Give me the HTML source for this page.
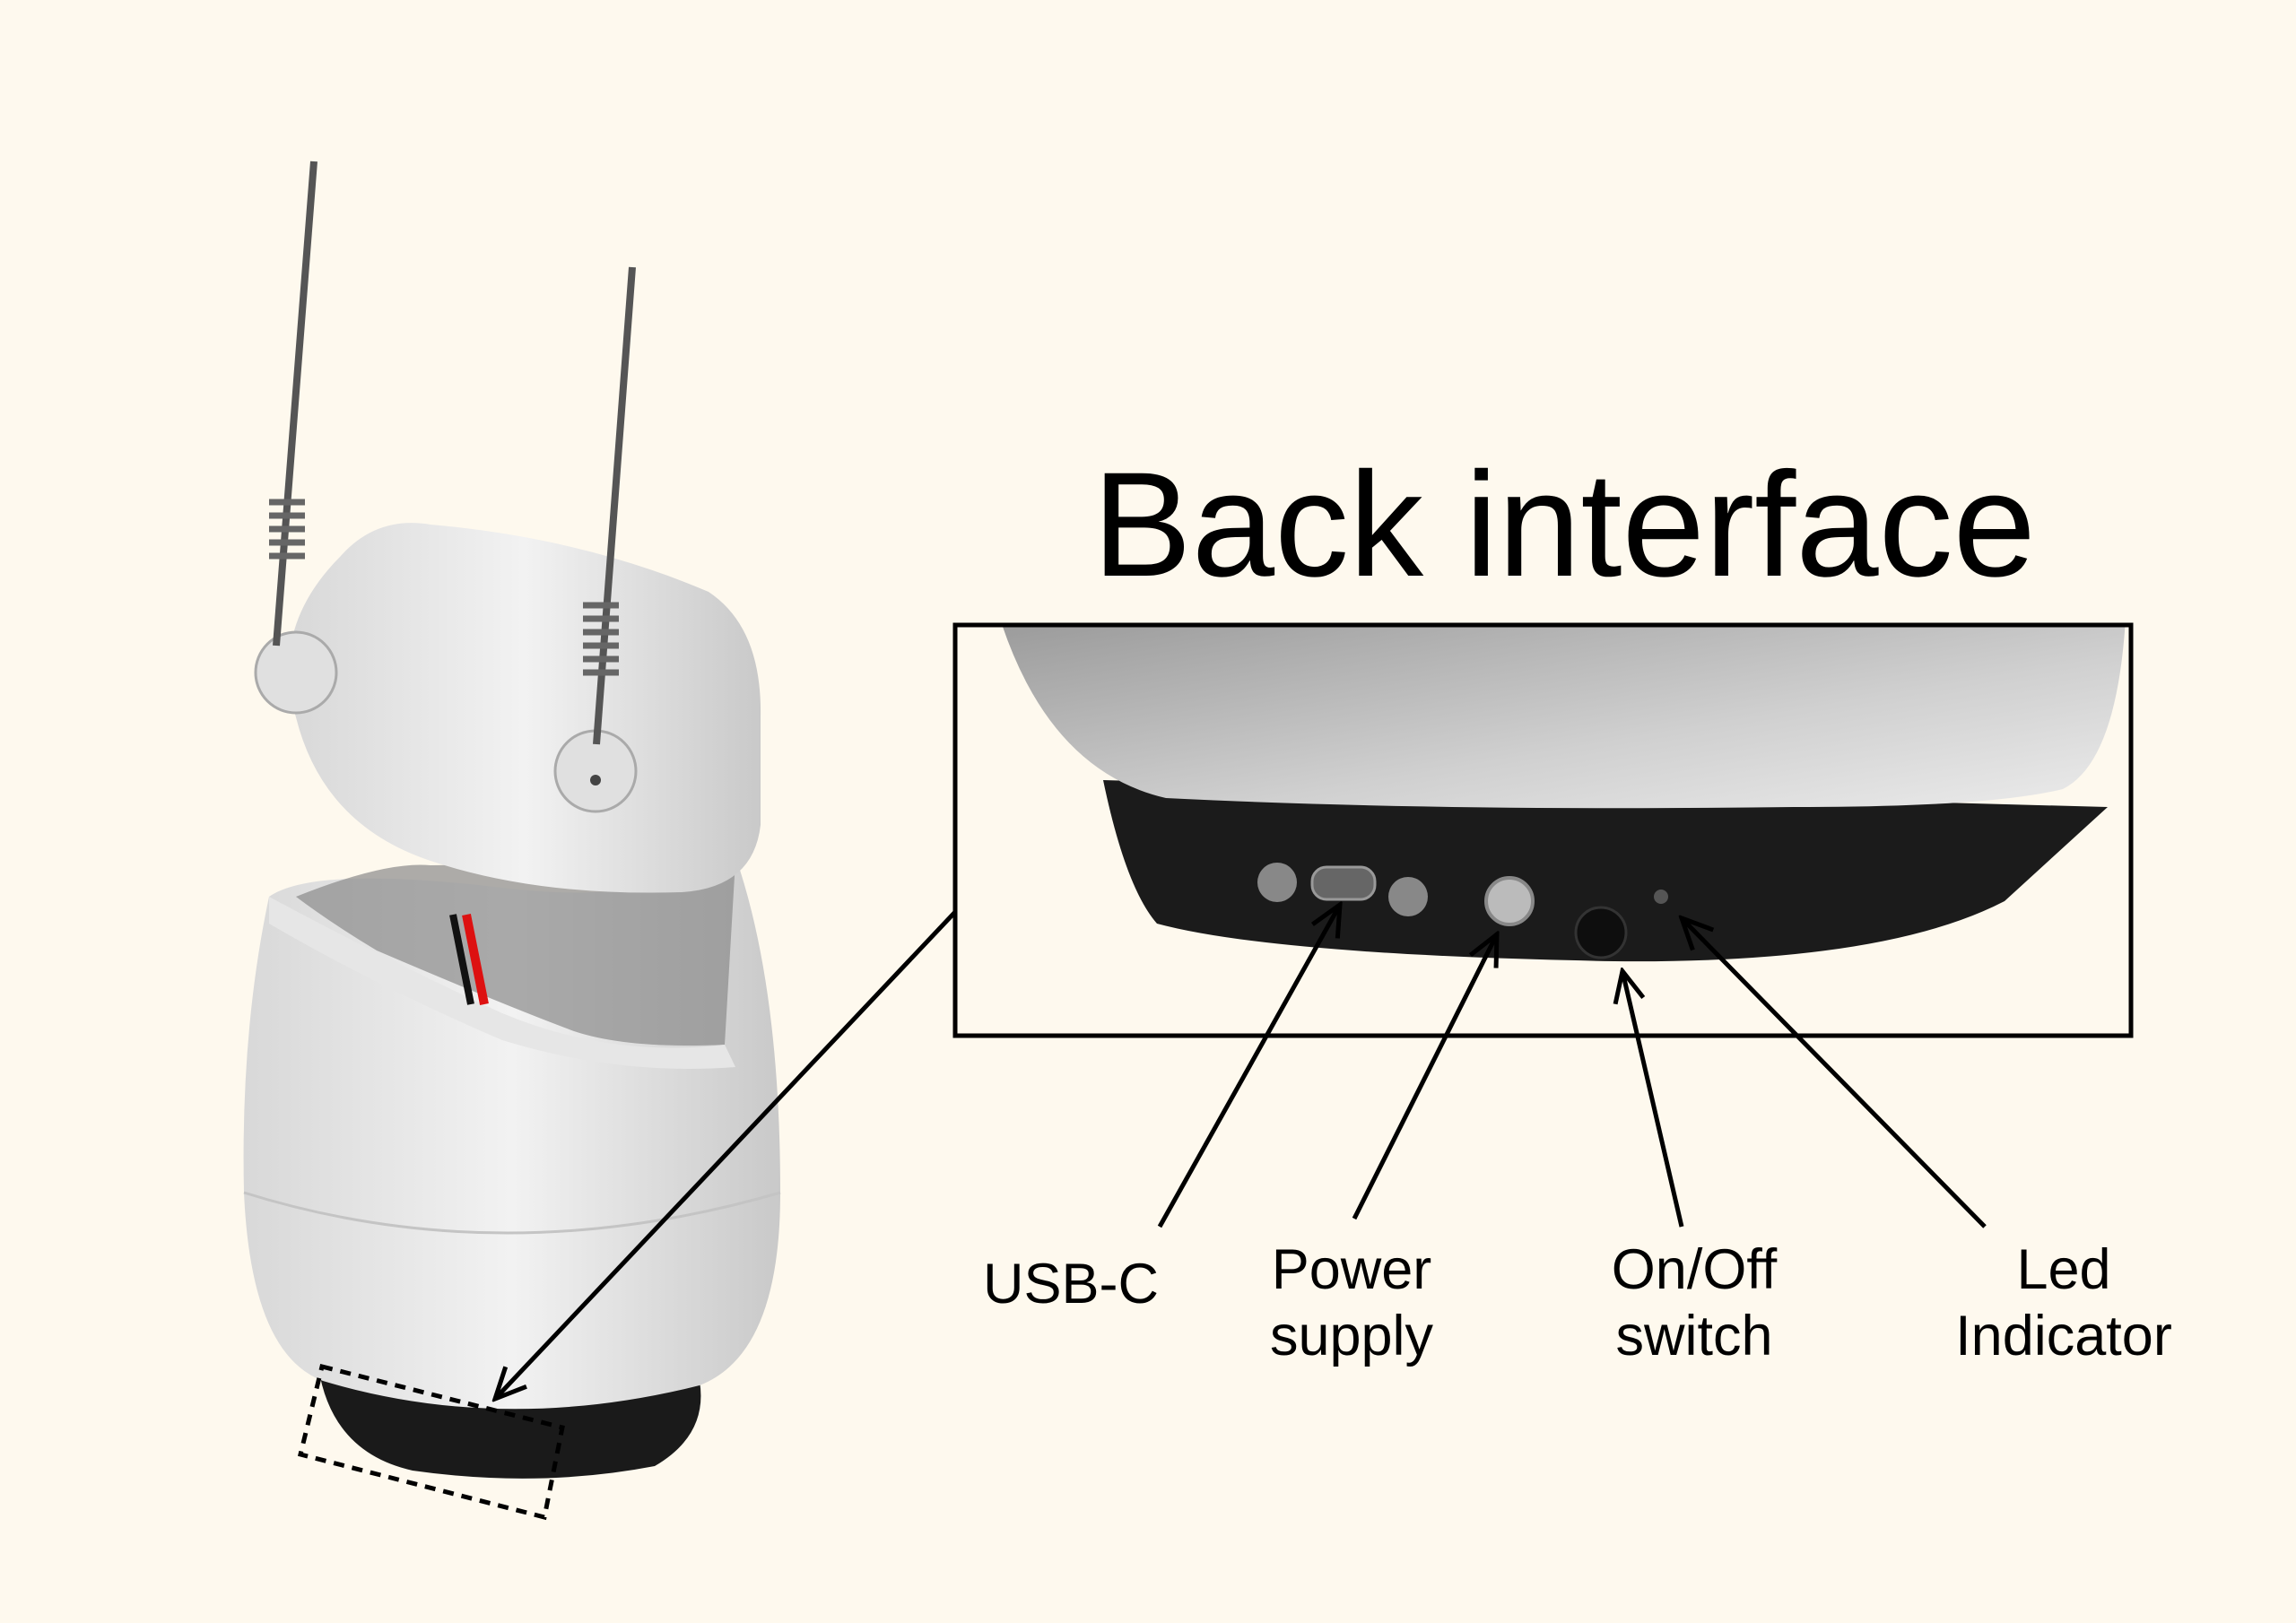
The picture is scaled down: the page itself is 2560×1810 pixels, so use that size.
<!DOCTYPE html>
<html><head><meta charset="utf-8"><style>
html,body{margin:0;padding:0;background:#fef9ee;}
svg{display:block}
text{font-family:"Liberation Sans",sans-serif;fill:#000}
</style></head><body>
<svg width="2560" height="1810" viewBox="0 0 2560 1810" xmlns="http://www.w3.org/2000/svg">
<defs>
<linearGradient id="shell" x1="0" y1="0" x2="1" y2="0">
<stop offset="0" stop-color="#d8d8d8"/><stop offset="0.5" stop-color="#f2f2f2"/><stop offset="1" stop-color="#c9c9c9"/>
</linearGradient>
<linearGradient id="dome" x1="0" y1="0" x2="1" y2="1">
<stop offset="0" stop-color="#9a9a9a"/><stop offset="0.6" stop-color="#d0d0d0"/><stop offset="1" stop-color="#ececec"/>
</linearGradient>
<marker id="ahw" markerWidth="40" markerHeight="40" refX="36" refY="20" orient="auto" markerUnits="userSpaceOnUse">
<path d="M2,4 L36,20 L2,36" fill="none" stroke="#000" stroke-width="5"/>
</marker>
</defs>

<!-- base -->
<path d="M355,1525 L780,1540 Q790,1600 730,1635 Q600,1660 460,1640 Q370,1620 355,1525 Z" fill="#1a1a1a"/>
<!-- body -->
<path d="M300,1000 Q350,965 560,990 Q720,1010 820,955 Q870,1100 870,1330 Q870,1510 780,1545 Q560,1600 360,1540 Q280,1510 272,1330 Q268,1150 300,1000 Z" fill="url(#shell)"/>
<path d="M272,1330 Q560,1420 870,1330" fill="none" stroke="#c4c4c4" stroke-width="3"/>
<path d="M330,1000 Q430,960 480,965 L820,960 L808,1165 Q700,1170 640,1150 Q560,1120 420,1060 Q370,1030 330,1000 Z" fill="#8a8a8a" opacity="0.7"/>
<path d="M300,1000 Q430,1070 560,1130 Q680,1180 808,1165 L820,1190 Q690,1200 560,1160 Q420,1100 300,1030 Z" fill="#e6e6e6"/>
<path d="M520,1020 L540,1120" stroke="#d11" stroke-width="10"/>
<path d="M505,1020 L525,1120" stroke="#111" stroke-width="8"/>
<!-- head -->
<path d="M380,620 Q420,575 480,585 Q650,600 790,660 Q850,700 848,800 L848,920 Q840,990 760,995 Q600,1000 480,960 Q360,920 330,800 Q300,700 380,620 Z" fill="url(#shell)"/>
<circle cx="330" cy="750" r="45" fill="#e0e0e0" stroke="#aaa" stroke-width="3"/>
<circle cx="664" cy="860" r="45" fill="#e0e0e0" stroke="#aaa" stroke-width="3"/>
<circle cx="664" cy="870" r="6" fill="#444"/>
<!-- antennas -->
<line x1="350" y1="180" x2="308" y2="720" stroke="#555" stroke-width="8"/>
<line x1="705" y1="298" x2="665" y2="830" stroke="#555" stroke-width="8"/>
<g stroke="#666" stroke-width="7" fill="none">
<path d="M300,560 h40 M300,575 h40 M300,590 h40 M300,605 h40 M300,620 h40"/>
<path d="M650,675 h40 M650,690 h40 M650,705 h40 M650,720 h40 M650,735 h40 M650,750 h40"/>
</g>
<!-- dashed rect -->
<polygon points="359,1524 627,1592 607,1692 335,1622" fill="none" stroke="#000" stroke-width="5" stroke-dasharray="12,9"/>

<!-- title -->
<text x="1744" y="642" font-size="166" text-anchor="middle">Back interface</text>

<!-- detail box -->
<rect x="1065" y="697" width="1311" height="458" fill="#fef9ee"/>
<clipPath id="bc"><rect x="1065" y="697" width="1311" height="458"/></clipPath>
<g clip-path="url(#bc)">
<path d="M1230,870 L2350,900 L2235,1005 Q2100,1075 1800,1072 Q1420,1065 1290,1030 Q1255,990 1230,870 Z" fill="#1b1b1b"/>
<path d="M1115,690 L2370,690 Q2360,850 2300,880 Q2220,900 2000,900 Q1600,905 1300,890 Q1170,860 1115,690 Z" fill="url(#dome)"/>
<circle cx="1424" cy="984" r="22" fill="#888"/>
<rect x="1463" y="967" width="70" height="36" rx="16" fill="#666" stroke="#999" stroke-width="3"/>
<circle cx="1570" cy="1000" r="22" fill="#888"/>
<circle cx="1683" cy="1005" r="26" fill="#bbb" stroke="#888" stroke-width="4"/>
<circle cx="1785" cy="1040" r="28" fill="#0e0e0e" stroke="#333" stroke-width="3"/>
<circle cx="1852" cy="1000" r="8" fill="#555"/>
</g>
<rect x="1065" y="697" width="1311" height="458" fill="none" stroke="#000" stroke-width="5"/>

<!-- arrows -->
<g stroke="#000" stroke-width="5" fill="none">
<line x1="1293" y1="1368" x2="1494" y2="1009" marker-end="url(#ahw)"/>
<line x1="1510" y1="1359" x2="1669" y2="1042" marker-end="url(#ahw)"/>
<line x1="1875" y1="1368" x2="1809" y2="1083" marker-end="url(#ahw)"/>
<line x1="2213" y1="1368" x2="1875" y2="1024" marker-end="url(#ahw)"/>
<line x1="1065" y1="1017" x2="552" y2="1560" marker-end="url(#ahw)"/>
</g>

<!-- labels -->
<g font-size="63" text-anchor="middle">
<text x="1194" y="1453">USB-C</text>
<text x="1507" y="1437">Power</text>
<text x="1507" y="1511">supply</text>
<text x="1889" y="1437">On/Off</text>
<text x="1889" y="1511">switch</text>
<text x="2301" y="1437">Led</text>
<text x="2301" y="1511">Indicator</text>
</g>
</svg>
</body></html>
